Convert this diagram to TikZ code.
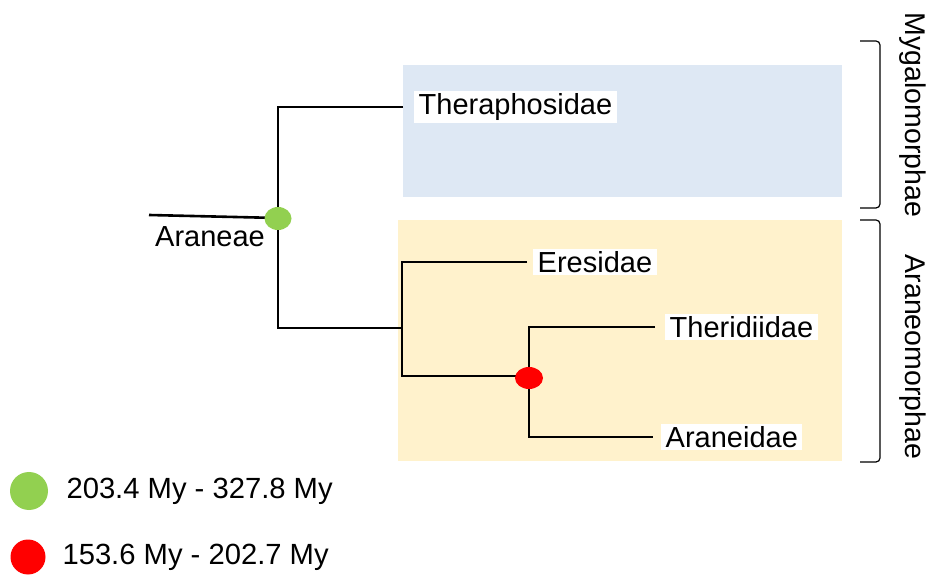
\documentclass[tikz,border=0pt]{standalone}
\usepackage{fontspec}
\setmainfont{Liberation Sans}
\usetikzlibrary{shapes.geometric}
\definecolor{mblue}{HTML}{DEE8F4}
\definecolor{myellow}{HTML}{FFF2CC}
\definecolor{mgreen}{HTML}{92D050}
\begin{document}
\begin{tikzpicture}[x=1pt,y=-1pt,
  branch/.style={line width=2.6pt},
  taxon/.style={fill=white, font=\fontsize{29}{33}\selectfont, inner xsep=4.5pt, inner ysep=2pt, anchor=west},
  dot/.style={ellipse, inner sep=0pt},
  legendtxt/.style={font=\fontsize{29.2}{33}\selectfont, anchor=west},
  clade/.style={font=\fontsize{28.5}{32}\selectfont, rotate=-90},
  bracket/.style={line width=1.2pt, rounded corners=4pt}]
\useasboundingbox (0,0) rectangle (930,577);
% clade backgrounds
\fill[mblue] (403,65) rectangle (842,197);
\fill[myellow] (398,220) rectangle (842,461);
% labels
\node[taxon] (th) at (414,107) {Theraphosidae};
\node[taxon] (er) at (533,262) {Eresidae};
\node[taxon] (tr) at (665,327) {Theridiidae};
\node[taxon] (an) at (661,437) {Araneidae};
\node[font=\fontsize{29}{33}\selectfont] (ar) at (210,237) {Araneae};
% junctions
\coordinate (root) at (149,215);
\coordinate (gc) at (278,218);
\coordinate (n1) at (402,328);
\coordinate (n1b) at (402,376);
\coordinate (rc) at (529,376);
% branches
\draw[branch] (root) -- (gc);
\draw[branch] ([xshift=-11pt]th.west) -| (gc) |- (n1);
\draw[branch] ([xshift=-6pt]er.west) -| (n1b) -- (rc);
\draw[branch] ([xshift=-10pt]tr.west) -| (rc) |- ([xshift=-8pt]an.west);
% node markers
\node[dot, fill=mgreen, minimum width=27pt, minimum height=23pt] (gd) at (278,218.5) {};
\node[dot, fill=red, minimum width=28pt, minimum height=22pt] (rd) at (529,378) {};
% brackets
\draw[bracket] (860,41) -- (880,41) -- (880,208) -- (860,208);
\draw[bracket] (860,220) -- (880,220) -- (880,462) -- (860,462);
\node[clade] (my) at (913,115) {Mygalomorphae};
\node[clade] (am) at (913,357) {Araneomorphae};
% legend
\node[circle, fill=mgreen, minimum size=38pt, inner sep=0pt] (lg) at (29,491) {};
\node[legendtxt] (lgt) at (63,491) {203.4 My - 327.8 My};
\node[circle, fill=red, minimum size=35pt, inner sep=0pt] (lr) at (28,557) {};
\node[legendtxt] (lrt) at (59,557) {153.6 My - 202.7 My};
\end{tikzpicture}
\end{document}
